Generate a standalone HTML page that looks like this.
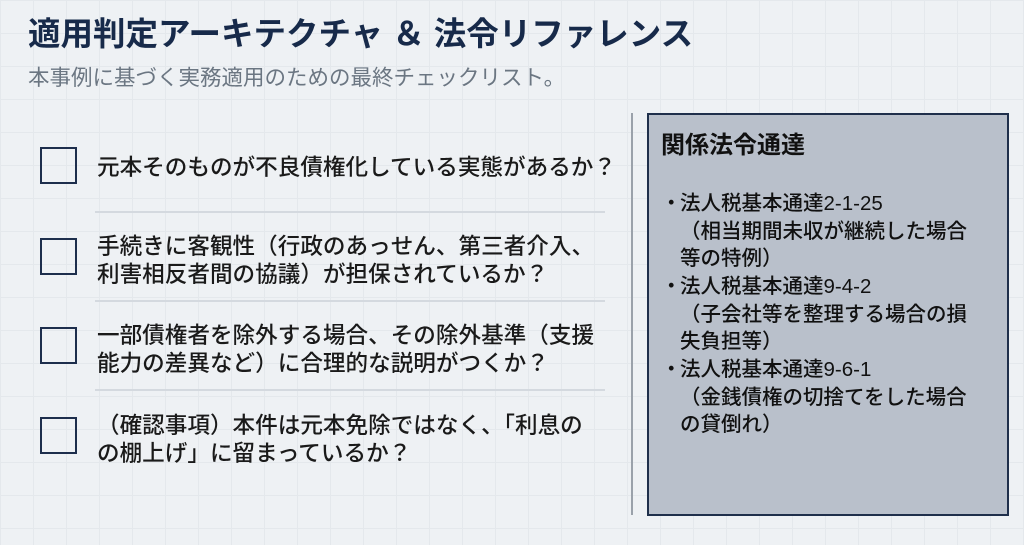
<!DOCTYPE html>
<html><head><meta charset="utf-8"><style>
body{margin:0;width:1024px;height:545px;overflow:hidden;background:#eef1f4;
background-image:linear-gradient(#e4e8ec 1px,transparent 1px),linear-gradient(90deg,#e4e8ec 1px,transparent 1px);background-size:33px 33px;
font-family:"Liberation Sans","Noto Sans CJK JP",sans-serif;position:relative}
.a{position:absolute;white-space:nowrap}
.t{left:28px;top:8px;font-size:32.5px;font-weight:bold;color:#172a4a}
.s{left:28px;top:61px;font-size:21.5px;color:#6b7682}
.cb{position:absolute;left:40px;width:33px;height:33px;border:2.5px solid #1d2e4c}
.l{font-size:22.6px;color:#1a1a1a;left:97px;font-weight:500}
.sep{position:absolute;left:95px;width:510px;height:2px;background:#d4d9df}
.div{position:absolute;left:631px;top:113px;width:2px;height:402px;background:#9aa1aa}
.box{position:absolute;left:647px;top:113px;width:358px;height:399px;background:#b9c0cb;border:2px solid #1f2f4b}
.p{font-size:20.5px;color:#111;left:680px;font-weight:500}
</style></head><body>
<div class="a t">適用判定アーキテクチャ ＆ 法令リファレンス</div>
<div class="a s">本事例に基づく実務適用のための最終チェックリスト。</div>

<div class="cb" style="top:147px"></div>
<div class="a l" style="top:149px">元本そのものが不良債権化している実態があるか？</div>
<div class="sep" style="top:211px"></div>
<div class="cb" style="top:238px"></div>
<div class="a l" style="top:228px">手続きに客観性（行政のあっせん、第三者介入、</div>
<div class="a l" style="top:256px">利害相反者間の協議）が担保されているか？</div>
<div class="sep" style="top:300px"></div>
<div class="cb" style="top:327px"></div>
<div class="a l" style="top:317px">一部債権者を除外する場合、その除外基準（支援</div>
<div class="a l" style="top:345px">能力の差異など）に合理的な説明がつくか？</div>
<div class="sep" style="top:389px"></div>
<div class="cb" style="top:417px"></div>
<div class="a l" style="top:407px">（確認事項）本件は元本免除ではなく、「利息の</div>
<div class="a l" style="top:435px">の棚上げ」に留まっているか？</div>

<div class="div"></div>
<div class="box"></div>
<div class="a" style="left:661px;top:125px;font-size:24px;font-weight:bold;color:#111">関係法令通達</div>
<div class="a p" style="left:661px;top:186px">・</div>
<div class="a p" style="top:186px">法人税基本通達2-1-25</div>
<div class="a p" style="top:214px">（相当期間未収が継続した場合</div>
<div class="a p" style="top:241px">等の特例）</div>
<div class="a p" style="left:661px;top:269px">・</div>
<div class="a p" style="top:269px">法人税基本通達9-4-2</div>
<div class="a p" style="top:297px">（子会社等を整理する場合の損</div>
<div class="a p" style="top:324px">失負担等）</div>
<div class="a p" style="left:661px;top:352px">・</div>
<div class="a p" style="top:352px">法人税基本通達9-6-1</div>
<div class="a p" style="top:380px">（金銭債権の切捨てをした場合</div>
<div class="a p" style="top:407px">の貸倒れ）</div>
</body></html>
